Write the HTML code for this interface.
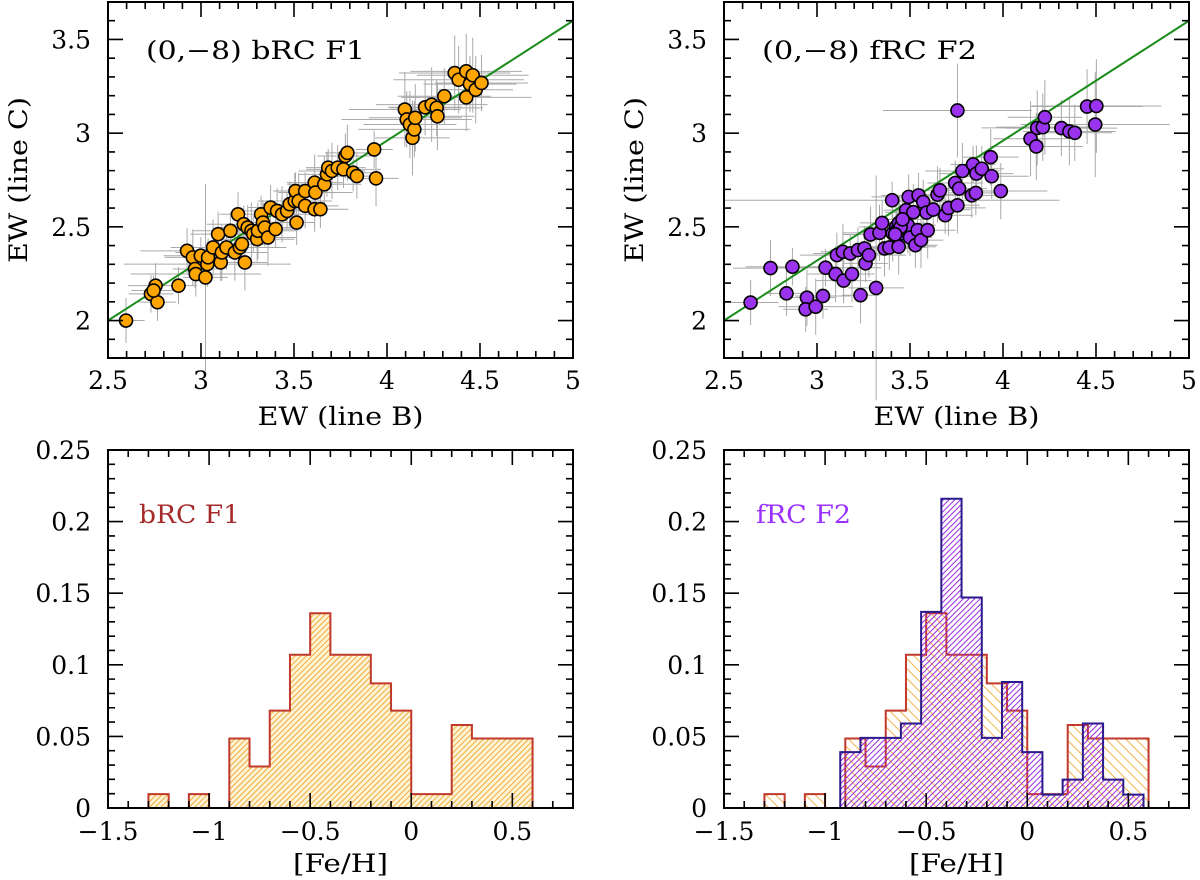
<!DOCTYPE html>
<html><head><meta charset="utf-8"><style>
html,body{margin:0;padding:0;background:#fff;}
svg{display:block;font-family:"DejaVu Serif","Liberation Serif",serif;}
</style></head><body>
<svg id="fig" width="1200" height="880" viewBox="0 0 1200 880" xmlns="http://www.w3.org/2000/svg">
<defs>
<pattern id="hatchL" patternUnits="userSpaceOnUse" width="4" height="4" patternTransform="rotate(45)">
<rect width="4" height="4" fill="#fff3d6"/><line x1="0" y1="0" x2="0" y2="4" stroke="#eda52a" stroke-width="1.8"/></pattern>
<pattern id="hatchO" patternUnits="userSpaceOnUse" width="7" height="7" patternTransform="rotate(-45)">
<line x1="0" y1="0" x2="0" y2="7" stroke="#f0a020" stroke-width="1.6"/></pattern>
<pattern id="hatchP" patternUnits="userSpaceOnUse" width="4" height="4" patternTransform="rotate(45)">
<line x1="0" y1="0" x2="0" y2="4" stroke="#9a2be0" stroke-width="2"/></pattern>
</defs>
<g id="layer"></g>
</svg>
<script>
// ---- scatter data: panel F1 (bRC) ----
const f1X=[2.597,2.731,2.756,2.766,2.745,2.879,2.925,2.956,2.968,2.972,2.999,3.024,3.034,3.038,3.065,3.092,3.106,3.112,3.137,3.158,3.182,3.199,3.209,3.220,3.236,3.230,3.251,3.271,3.281,3.302,3.306,3.323,3.333,3.343,3.360,3.374,3.401,3.409,3.436,3.463,3.477,3.504,3.508,3.514,3.525,3.560,3.560,3.611,3.615,3.611,3.642,3.663,3.677,3.684,3.704,3.735,3.766,3.776,3.787,3.818,3.838,3.931,3.941,4.096,4.106,4.123,4.137,4.147,4.152,4.205,4.240,4.267,4.271,4.308,4.364,4.385,4.426,4.426,4.446,4.461,4.477,4.508];
const f1Y=[2.0,2.142,2.186,2.098,2.160,2.186,2.372,2.337,2.275,2.248,2.346,2.230,2.301,2.337,2.390,2.461,2.310,2.363,2.390,2.479,2.363,2.567,2.390,2.408,2.310,2.514,2.496,2.479,2.461,2.434,2.479,2.567,2.523,2.496,2.443,2.603,2.488,2.585,2.567,2.585,2.621,2.638,2.691,2.523,2.638,2.691,2.612,2.736,2.683,2.594,2.594,2.727,2.780,2.816,2.798,2.816,2.807,2.878,2.895,2.789,2.771,2.913,2.759,3.126,3.073,3.046,2.975,3.020,3.082,3.138,3.152,3.135,3.090,3.197,3.321,3.285,3.330,3.191,3.262,3.309,3.232,3.268];
const f1XE=[0.10,0.12,0.15,0.10,0.12,0.10,0.25,0.15,0.12,0.35,0.20,0.12,0.45,0.15,0.20,0.15,0.10,0.25,0.30,0.20,0.15,0.10,0.25,0.15,0.12,0.20,0.15,0.25,0.12,0.20,0.10,0.15,0.12,0.20,0.15,0.12,0.10,0.20,0.15,0.12,0.15,0.20,0.12,0.10,0.15,0.12,0.18,0.15,0.20,0.12,0.15,0.20,0.15,0.12,0.18,0.15,0.20,0.15,0.12,0.15,0.12,0.10,0.12,0.30,0.35,0.25,0.20,0.30,0.25,0.20,0.30,0.25,0.20,0.25,0.30,0.35,0.30,0.35,0.25,0.30,0.20,0.25];
const f1YE=[0.12,0.10,0.12,0.10,0.08,0.10,0.12,0.15,0.10,0.12,0.10,0.50,0.12,0.10,0.15,0.12,0.10,0.15,0.12,0.10,0.15,0.12,0.10,0.12,0.15,0.10,0.12,0.15,0.10,0.12,0.15,0.10,0.12,0.10,0.15,0.12,0.10,0.12,0.15,0.10,0.12,0.15,0.10,0.12,0.15,0.10,0.12,0.15,0.10,0.12,0.10,0.15,0.12,0.10,0.15,0.12,0.10,0.12,0.15,0.10,0.12,0.10,0.15,0.20,0.15,0.18,0.20,0.15,0.18,0.15,0.20,0.15,0.18,0.15,0.20,0.18,0.20,0.18,0.15,0.20,0.18,0.15];
// ---- scatter data: panel F2 (fRC) ----
const f2X=[2.643,2.75,2.836,2.868,2.946,2.939,2.993,3.032,3.046,3.1,3.107,3.139,3.143,3.179,3.188,3.22,3.234,3.255,3.261,3.279,3.288,3.318,3.336,3.35,3.363,3.389,3.404,3.407,3.425,3.443,3.452,3.439,3.461,3.479,3.488,3.493,3.5,3.518,3.529,3.541,3.546,3.559,3.571,3.589,3.595,3.625,3.648,3.661,3.689,3.707,3.743,3.755,3.755,3.764,3.782,3.832,3.839,3.854,3.857,3.886,3.934,3.939,3.988,4.148,4.179,4.184,4.214,4.225,4.314,4.357,4.386,4.452,4.502,4.496,3.43,3.44,3.45,3.42,3.46];
const f2Y=[2.096,2.28,2.145,2.287,2.122,2.06,2.074,2.131,2.282,2.248,2.349,2.367,2.213,2.358,2.248,2.376,2.135,2.385,2.305,2.349,2.459,2.174,2.468,2.521,2.385,2.39,2.642,2.465,2.5,2.518,2.465,2.394,2.482,2.589,2.509,2.66,2.443,2.578,2.402,2.482,2.668,2.429,2.633,2.576,2.482,2.592,2.672,2.695,2.562,2.601,2.734,2.615,3.121,2.704,2.798,2.668,2.833,2.681,2.784,2.81,2.872,2.77,2.691,2.97,2.929,3.028,3.032,3.085,3.027,3.009,3.002,3.142,3.145,3.046,2.48,2.52,2.50,2.46,2.54];
const f2XE=[0.15,0.20,0.12,0.25,0.15,0.12,0.20,0.15,0.30,0.15,0.20,0.12,0.15,0.20,0.12,0.15,0.10,0.15,0.12,0.20,0.15,0.15,0.20,0.12,0.15,0.20,0.90,0.15,0.20,0.15,0.12,0.20,0.15,0.12,0.15,0.20,0.12,0.15,0.12,0.15,0.20,0.12,0.15,0.12,0.15,0.20,0.15,0.12,0.15,0.20,0.15,0.12,0.40,0.15,0.20,0.15,0.12,0.15,0.20,0.12,0.15,0.20,0.25,0.20,0.25,0.30,0.25,0.20,0.30,0.25,0.20,0.30,0.35,0.40,0.12,0.15,0.12,0.10,0.12];
const f2YE=[0.12,0.15,0.12,0.10,0.15,0.12,0.15,0.12,0.10,0.15,0.12,0.15,0.12,0.10,0.15,0.12,0.15,0.12,0.10,0.12,0.15,0.60,0.15,0.12,0.15,0.12,0.10,0.15,0.12,0.15,0.12,0.15,0.12,0.10,0.15,0.12,0.10,0.15,0.12,0.10,0.12,0.15,0.12,0.10,0.15,0.12,0.15,0.12,0.10,0.15,0.12,0.15,0.25,0.12,0.15,0.12,0.10,0.12,0.15,0.12,0.15,0.12,0.15,0.20,0.18,0.20,0.18,0.20,0.15,0.18,0.15,0.20,0.25,0.28,0.12,0.10,0.12,0.10,0.12];
// ---- fit line ----
const fitX=[2.5,5.0];
const fitY=[2.0,3.6];
// ---- histograms ----
const binWidth=0.1;
const h1Start=-1.3;
const h1Vals=[0.0097,0,0.0097,0,0.0485,0.029,0.068,0.107,0.136,0.107,0.107,0.087,0.068,0.0097,0.0097,0.058,0.0485,0.0485,0.0485];
const h2Start=-0.925;
const h2Vals=[0.039,0.049,0.049,0.059,0.137,0.216,0.147,0.049,0.088,0.039,0.0093,0.0198,0.059,0.0198,0.0093];
// ---- tick labels ----
const topXTicks=["2.5","3","3.5","4","4.5","5"];
const topYTicks=["2","2.5","3","3.5"];
const botXTicks=["\u22121.5","\u22121","\u22120.5","0","0.5"];
const botYTicks=["0","0.05","0.1","0.15","0.2","0.25"];

const NS="http://www.w3.org/2000/svg";
const layer=document.getElementById('layer');
function mk(tag,attrs,parent){const e=document.createElementNS(NS,tag);for(const k in attrs)e.setAttribute(k,attrs[k]);(parent||layer).appendChild(e);return e;}

function makePanel(name,x0,y0,w,h,xmin,xmax,ymin,ymax){
  const g=mk('g',{});
  
  
  return {g,x0,y0,w,h,sx:v=>x0+(v-xmin)/(xmax-xmin)*w,sy:v=>y0+h-(v-ymin)/(ymax-ymin)*h,xmin,xmax,ymin,ymax};
}
function ticks(p,xMajor,xMinor,yMajor,yMinor,xLabels,yLabels,xLabelVals,yLabelVals,labelY){
  const tg=mk('g',{},p.g);
  
  
  let d='';
  const eps=1e-9;
  for(let v=Math.ceil(p.xmin/xMinor-eps)*xMinor;v<=p.xmax+eps;v+=xMinor){
    const isM=Math.abs(v/xMajor-Math.round(v/xMajor))<1e-6;const L=isM?15:7;const X=p.sx(v);
    d+=`M${X},${p.y0+p.h}v${-L}M${X},${p.y0}v${L}`;
  }
  for(let v=Math.ceil(p.ymin/yMinor-eps)*yMinor;v<=p.ymax+eps;v+=yMinor){
    const isM=Math.abs(v/yMajor-Math.round(v/yMajor))<1e-6;const L=isM?15:7;const Y=p.sy(v);
    d+=`M${p.x0},${Y}h${L}M${p.x0+p.w},${Y}h${-L}`;
  }
  mk('path',{d,stroke:'#000','stroke-width':1.6,fill:'none'},tg);
  xLabels.forEach((t,i)=>{const e=mk('text',{x:p.sx(xLabelVals[i]),y:labelY,'text-anchor':'middle','font-size':25,fill:'#000'},p.g);e.textContent=t;
    
    });
  yLabels.forEach((t,i)=>{const e=mk('text',{x:p.x0-17,y:p.sy(yLabelVals[i])+9,'text-anchor':'end','font-size':25,fill:'#000'},p.g);e.textContent=t;
    
    });
}
function frame(p){const r=mk('rect',{x:p.x0,y:p.y0,width:p.w,height:p.h,fill:'none',stroke:'#000','stroke-width':2},p.g);
  
  }
function text(p,s,x,y,size,color,name,extra){const e=mk('text',Object.assign({x,y,'font-size':size,fill:color},extra||{}),p.g);e.textContent=s;
  
  return e;}

function scatter(p,X,Y,XE,YE,color,name){
  const eg=mk('g',{},p.g);
  
  
  let d='';
  X.forEach((x,i)=>{d+=`M${p.sx(x-XE[i])},${p.sy(Y[i])}H${p.sx(x+XE[i])}M${p.sx(x)},${p.sy(Y[i]-YE[i])}V${p.sy(Y[i]+YE[i])}`;});
  mk('path',{d,stroke:'#8c8c8c','stroke-width':1,'stroke-opacity':0.75,fill:'none'},eg);
  const lg=mk('line',{x1:p.sx(fitX[0]),y1:p.sy(fitY[0]),x2:p.sx(fitX[1]),y2:p.sy(fitY[1]),stroke:'#1c8c1c','stroke-width':2},p.g);
  
  
  const pg=mk('g',{},p.g);
  
  
  X.forEach((x,i)=>{const c=mk('circle',{cx:p.sx(x),cy:p.sy(Y[i]),r:6.5,fill:color,stroke:'#000','stroke-width':1.6},pg);
    
    });
}
function hist(p,start,vals,fill,stroke,name){
  let d=`M${p.sx(p.xmin)},${p.sy(0)}H${p.sx(start)}`;
  vals.forEach((v,i)=>{d+=`V${p.sy(v)}H${p.sx(start+(i+1)*binWidth)}`;});
  d+=`V${p.sy(0)}H${p.sx(p.xmax)}`;
  const f=mk('path',{d:d+'Z',fill,stroke:'none'},p.g);
  
  
  const o=mk('path',{d,fill:'none',stroke,'stroke-width':2},p.g);
  
  
}

const tXv=[2.5,3,3.5,4,4.5,5], tYv=[2,2.5,3,3.5], bXv=[-1.5,-1,-0.5,0,0.5], bYv=[0,0.05,0.1,0.15,0.2,0.25];
const fit={textLength:'', lengthAdjust:'spacingAndGlyphs'};

// top-left
let p=makePanel('scatter-panel-brc-f1',108,2,465,356,2.5,5,1.8,3.7);
scatter(p,f1X,f1Y,f1XE,f1YE,'#ffa500','brc-f1');
frame(p);ticks(p,0.5,0.1,0.5,0.1,topXTicks,topYTicks,tXv,tYv,389);
text(p,'(0,\u22128)  bRC F1',146,59,25,'#000','panel-label',{'xml:space':'preserve',textLength:219,lengthAdjust:'spacingAndGlyphs'});
text(p,'EW (line B)',p.x0+p.w/2,425,25,'#000','x-axis-title',{'text-anchor':'middle',textLength:166,lengthAdjust:'spacingAndGlyphs'});
text(p,'EW (line C)',0,0,25,'#000','y-axis-title',{'text-anchor':'middle',textLength:166,lengthAdjust:'spacingAndGlyphs',transform:'translate(27,180) rotate(-90)'});
// top-right
p=makePanel('scatter-panel-frc-f2',724,2,465,356,2.5,5,1.8,3.7);
scatter(p,f2X,f2Y,f2XE,f2YE,'#9933ee','frc-f2');
frame(p);ticks(p,0.5,0.1,0.5,0.1,topXTicks,topYTicks,tXv,tYv,389);
text(p,'(0,\u22128)  fRC F2',762,59,25,'#000','panel-label',{'xml:space':'preserve',textLength:215,lengthAdjust:'spacingAndGlyphs'});
text(p,'EW (line B)',p.x0+p.w/2,425,25,'#000','x-axis-title',{'text-anchor':'middle',textLength:166,lengthAdjust:'spacingAndGlyphs'});
text(p,'EW (line C)',0,0,25,'#000','y-axis-title',{'text-anchor':'middle',textLength:166,lengthAdjust:'spacingAndGlyphs',transform:'translate(643,180) rotate(-90)'});
// bottom-left
p=makePanel('histogram-panel-brc-f1',108,450,465,358,-1.5,0.8,0,0.25);
hist(p,h1Start,h1Vals,'url(#hatchL)','#c0392b','brc-f1-histogram');
frame(p);ticks(p,0.5,0.1,0.05,0.01,botXTicks,botYTicks,bXv,bYv,840);
text(p,'bRC F1',139,523,25,'#a52a2a','histogram-label',{textLength:101,lengthAdjust:'spacingAndGlyphs'});
text(p,'[Fe/H]',p.x0+p.w/2,872,25,'#000','x-axis-title',{'text-anchor':'middle',textLength:95,lengthAdjust:'spacingAndGlyphs'});
// bottom-right
p=makePanel('histogram-panel-frc-f2',724,450,465,358,-1.5,0.8,0,0.25);
hist(p,h1Start,h1Vals,'url(#hatchO)','#c0392b','brc-f1-histogram');
hist(p,h2Start,h2Vals,'url(#hatchP)','#2a1a8c','frc-f2-histogram');
frame(p);ticks(p,0.5,0.1,0.05,0.01,botXTicks,botYTicks,bXv,bYv,840);
text(p,'fRC F2',756,523,25,'#9b30ff','histogram-label',{textLength:95,lengthAdjust:'spacingAndGlyphs'});
text(p,'[Fe/H]',p.x0+p.w/2,872,25,'#000','x-axis-title',{'text-anchor':'middle',textLength:95,lengthAdjust:'spacingAndGlyphs'});
</script>
</body></html>
